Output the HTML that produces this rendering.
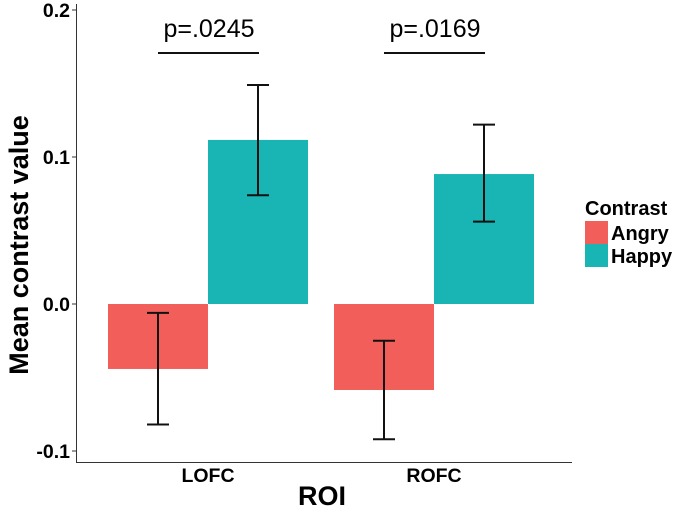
<!DOCTYPE html>
<html><head><meta charset="utf-8"><style>
body{margin:0;background:#fff;}
svg text{font-family:"Liberation Sans",Arial,sans-serif;}
</style></head><body>
<svg width="683" height="512">
<g id="plot"></g>
</svg>
<script>
const categories=["LOFC","ROFC"];
const groups=["Angry","Happy"];
const angryValues=[-0.0442,-0.0585];
const happyValues=[0.1116,0.0884];
const angryLow=[-0.082,-0.092];
const angryHigh=[-0.006,-0.025];
const happyLow=[0.074,0.056];
const happyHigh=[0.149,0.122];
const pLabels=["p=.0245","p=.0169"];
const yTicks=[-0.1,0.0,0.1,0.2];
const yTickLabels=["-0.1","0.0","0.1","0.2"];

const NS="http://www.w3.org/2000/svg";
const g=document.getElementById('plot');
const colors=["#F25F5A","#19B4B4"];
function y(v){return 304-v*1470;}
function xc(i){return 208+i*226;}
const bw=100;
function mk(t,a,txt){const e=document.createElementNS(NS,t);for(const k in a)e.setAttribute(k,a[k]);if(txt!==undefined)e.textContent=txt;g.appendChild(e);return e;}

let e=mk('line',{x1:76.5,y1:4,x2:76.5,y2:462.5,stroke:'#333','stroke-width':1});


e=mk('line',{x1:76,y1:462.5,x2:572,y2:462.5,stroke:'#333','stroke-width':1});


yTicks.forEach((t,i)=>{
  let l=mk('line',{x1:72,x2:76,y1:y(t),y2:y(t),stroke:'#333'});
  
  
  let tx=mk('text',{x:70,y:y(t)+7,'text-anchor':'end','font-size':19.5,'font-weight':'bold'},yTickLabels[i]);
  
  
});
const vals=[angryValues,happyValues],lo=[angryLow,happyLow],hi=[angryHigh,happyHigh];
categories.forEach((c,i)=>{
  for(let s=0;s<2;s++){
    const v=vals[s][i];const x0=xc(i)-bw+s*bw;
    let r=mk('rect',{x:x0,y:Math.min(y(v),y(0)),width:bw,height:Math.abs(y(v)-y(0)),fill:colors[s]});
    
    
    const cx=x0+bw/2;
    let eb=mk('path',{d:`M${cx-11},${y(hi[s][i])}H${cx+11}M${cx},${y(hi[s][i])}V${y(lo[s][i])}M${cx-11},${y(lo[s][i])}H${cx+11}`,stroke:'#111','stroke-width':2,fill:'none'});
    
    
  }
  let t=mk('text',{x:xc(i),y:482,'text-anchor':'middle','font-size':19.5,'font-weight':'bold'},c);
  
  
  let l=mk('line',{x1:xc(i)-50,x2:xc(i)+51,y1:53,y2:53,stroke:'#111','stroke-width':2});
  
  
  let p=mk('text',{x:xc(i)+1,y:37,'text-anchor':'middle','font-size':25},pLabels[i]);
  
  
});
e=mk('text',{x:322,y:505,'text-anchor':'middle','font-size':27,'font-weight':'bold'},'ROI');


e=mk('text',{x:0,y:0,transform:'translate(28,245) rotate(-90)','text-anchor':'middle','font-size':27,'font-weight':'bold'},'Mean contrast value');


e=mk('text',{x:585,y:215,'font-size':20,'font-weight':'bold'},'Contrast');


groups.forEach((gname,s)=>{
  let r=mk('rect',{x:585,y:221+s*23,width:23,height:23,fill:colors[s]});
  
  
  let t=mk('text',{x:611,y:240+s*23,'font-size':20,'font-weight':'bold'},gname);
  
  
});
</script>
</body></html>
